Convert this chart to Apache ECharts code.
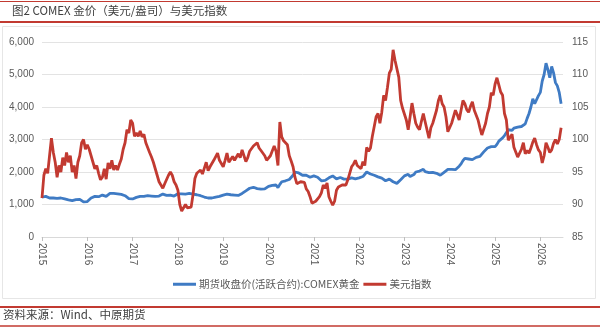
<!DOCTYPE html>
<html>
<head>
<meta charset="utf-8">
<script src="https://cdn.jsdelivr.net/npm/echarts@6/dist/echarts.min.js"></script>
<style>
html,body{margin:0;padding:0;background:#fff;}
#c{width:600px;height:330px;}
</style>
</head>
<body>
<div id="c"></div>
<script>
// Year tick labels
var yearLabels = [2015,2016,2017,2018,2019,2020,2021,2022,2023,2024,2025,2026];
// Series sampled twice a month starting 2015-01
var startYear = 2015;
var stepsPerYear = 24;
var seriesNames = ['期货收盘价(活跃合约):COMEX黄金', '美元指数'];

var goldValues = [
1230,1260,1250,1220,1200,1190,1200,1210,1190,1210,1200,1180,1170,1160,1140,1110,1120,1140,1150,1170,1160,1110,1080,1070,
1090,1120,1200,1240,1250,1240,1240,1270,1290,1270,1250,1280,1340,1360,1340,1350,1330,1320,1310,1290,1270,1220,1180,1150,
1170,1200,1220,1240,1250,1230,1250,1270,1270,1230,1260,1270,1250,1230,1260,1290,1320,1340,1280,1280,1290,1280,1260,1300,
1330,1340,1330,1330,1320,1330,1340,1330,1320,1300,1300,1290,1270,1240,1230,1210,1200,1200,1200,1210,1230,1240,1250,1280,
1290,1310,1320,1330,1300,1290,1290,1280,1280,1290,1340,1400,1420,1430,1500,1510,1530,1500,1490,1500,1470,1470,1480,1510,
1560,1570,1590,1640,1600,1520,1620,1700,1710,1730,1740,1770,1800,1900,2000,2060,1970,1950,1900,1880,1900,1880,1840,1870,
1880,1850,1840,1780,1730,1720,1740,1770,1820,1870,1880,1900,1790,1810,1830,1790,1780,1760,1780,1800,1820,1860,1790,1790,
1820,1810,1860,1900,2000,2040,1940,1940,1900,1860,1850,1830,1810,1780,1730,1760,1780,1730,1700,1660,1650,1680,1760,1800,
1880,1940,1930,1860,1860,1920,2000,2020,2030,2050,2080,2010,1990,1980,1950,1990,1990,1960,1940,1900,1880,1990,2050,2080,
2090,2080,2060,2070,2100,2180,2250,2350,2420,2380,2400,2450,2380,2420,2450,2500,2480,2550,2620,2680,2740,2700,2780,2720,
2780,2850,2950,3000,3050,3120,3150,3300,3350,3280,3350,3400,3380,3420,3400,3450,3480,3650,3800,4000,4250,4100,4150,4350,
4450,4800,5000,5350,5150,4900,5250,5050,4750,4650,4450,4100
];

var usdValues = [
91.0,94.5,95.5,94.8,97.5,100.2,98.0,96.5,94.2,96.0,95.0,97.2,96.0,98.0,96.5,97.5,95.0,96.0,94.0,96.5,97.5,99.5,100.0,98.5,
99.2,98.5,97.5,96.5,95.5,96.0,94.8,93.8,94.2,95.5,93.9,96.4,95.5,96.8,95.3,96.0,95.3,96.2,97.0,98.5,99.5,101.5,101.0,103.0,
102.5,100.5,101.0,100.5,101.3,100.4,100.8,99.5,99.8,98.0,97.3,96.5,95.5,94.5,93.5,93.0,92.5,93.2,93.0,94.5,95.0,94.5,93.5,93.0,
92.2,90.0,89.0,88.8,90.0,89.5,89.8,89.6,91.5,94.0,94.8,94.5,95.3,94.7,95.6,96.5,95.2,95.8,95.5,96.8,97.0,97.9,96.8,96.3,
95.8,96.8,97.9,96.5,96.8,97.4,96.8,97.3,97.8,97.2,98.4,97.5,96.6,97.2,98.2,98.0,99.0,98.7,99.5,98.7,98.3,98.4,97.5,96.8,
96.7,97.5,97.3,99.0,98.2,96.0,102.7,100.4,99.8,100.0,99.2,97.5,96.7,95.8,94.2,93.2,93.0,93.5,93.8,93.4,92.4,92.0,91.2,90.2,
89.9,90.5,90.6,91.2,91.8,93.0,92.5,93.3,91.2,90.5,89.9,90.5,92.2,92.7,92.6,93.0,93.3,93.0,93.8,94.1,95.8,96.2,96.8,96.0,
95.8,95.5,96.6,96.0,98.8,98.2,98.7,100.5,102.0,103.5,104.0,102.5,104.2,106.8,106.0,108.0,110.2,110.8,113.8,112.2,112.5,109.6,106.0,104.8,
104.5,103.0,101.5,103.5,105.6,104.0,102.5,101.9,101.5,102.8,104.0,102.7,102.8,100.2,101.8,102.5,103.5,104.5,106.0,106.8,105.5,105.0,103.5,101.2,
101.5,102.5,103.5,104.5,103.8,103.0,104.5,106.0,105.5,104.6,104.2,105.1,105.8,104.5,104.2,103.0,101.8,100.7,101.0,102.5,104.0,105.0,107.2,106.8,
108.5,109.5,108.4,107.3,106.8,104.0,103.0,99.9,99.6,100.8,98.8,99.0,97.3,97.6,98.5,99.5,97.8,98.3,97.9,98.7,99.6,100.2,99.2,98.4,
98.0,96.4,97.5,99.5,98.8,98.0,98.4,99.4,100.0,99.3,100.0,101.8
];

function toPairs(vals){
  var out = [];
  for (var i = 0; i < vals.length; i++) out.push([startYear + i / stepsPerYear, vals[i]]);
  return out;
}

var chart = echarts.init(document.getElementById('c'), null, {renderer:'canvas'});
var red = '#c23a31';
var lab = '#595959';
chart.setOption({
  animation: false,
  backgroundColor: '#fff',
  textStyle: {fontFamily: '"Liberation Sans", "Noto Sans CJK SC", sans-serif'},
  grid: {left: 42, right: 37, top: 42, bottom: 93},
  legend: {
    left: 168, top: 274,
    itemWidth: 23, itemHeight: 3, itemGap: 4,
    icon: 'rect',
    textStyle: {fontSize: 10.5, color: lab, fontFamily: '"Noto Sans CJK SC", sans-serif', padding: [0,0,0,-2]},
    data: seriesNames
  },
  xAxis: {
    type: 'value', min: 2015, max: 2026.5,
    splitLine: {show: false},
    axisLine: {lineStyle: {color: '#d9d9d9'}},
    axisTick: {show: true, length: 4, lineStyle: {color: '#bfbfbf'}, customValues: yearLabels},
    axisLabel: {rotate: -90, fontSize: 10, color: lab, margin: 6, customValues: yearLabels,
      formatter: function(v){ return String(v); }}
  },
  yAxis: [
    {type: 'value', min: 0, max: 6000, interval: 1000,
     axisLine: {show: false}, axisTick: {show: false},
     splitLine: {lineStyle: {color: '#e3e3e3'}},
     axisLabel: {fontSize: 10, color: lab, margin: 8,
       formatter: function(v){ return v.toLocaleString('en-US'); }}},
    {type: 'value', min: 85, max: 115, interval: 5, position: 'right',
     axisLine: {show: false}, axisTick: {show: false}, splitLine: {show: false},
     axisLabel: {fontSize: 10, color: lab, margin: 9}}
  ],
  series: [
    {name: seriesNames[0], type: 'line', yAxisIndex: 0, showSymbol: false, symbol: 'none',
     lineStyle: {width: 2.8, color: '#3f7bc4'}, itemStyle: {color: '#3f7bc4'},
     data: toPairs(goldValues)},
    {name: seriesNames[1], type: 'line', yAxisIndex: 1, showSymbol: false, symbol: 'none',
     lineStyle: {width: 2.8, color: red}, itemStyle: {color: red},
     data: toPairs(usdValues)}
  ],
  graphic: [
    {type: 'rect', shape: {x: 2.5, y: 26.5, width: 593, height: 272}, style: {fill: 'none', stroke: '#e6e6e6', lineWidth: 1}, silent: true},
    {type: 'line', shape: {x1: 0, y1: 1.5, x2: 600, y2: 1.5}, style: {stroke: red, lineWidth: 1}},
    {type: 'line', shape: {x1: 0, y1: 22, x2: 600, y2: 22}, style: {stroke: red, lineWidth: 2}},
    {type: 'text', left: 12, top: 5, style: {text: '图2 COMEX 金价（美元/盎司）与美元指数', fontSize: 11.5, fill: '#404040', fontFamily: '"Noto Sans CJK SC", sans-serif'}},
    {type: 'line', shape: {x1: 0, y1: 307, x2: 600, y2: 307}, style: {stroke: red, lineWidth: 2}},
    {type: 'text', left: 3, top: 309, style: {text: '资料来源：Wind、中原期货', fontSize: 11.5, fill: '#404040', fontFamily: '"Noto Sans CJK SC", sans-serif'}},
    {type: 'line', shape: {x1: 0, y1: 326, x2: 600, y2: 326}, style: {stroke: red, lineWidth: 1.5}}
  ]
});
</script>
</body>
</html>
